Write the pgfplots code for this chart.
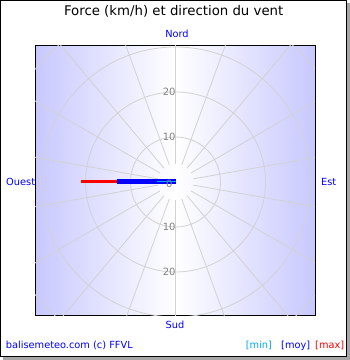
\documentclass[border=0pt]{standalone}
\usepackage{fontspec}
\setmainfont{DejaVu Sans}
\usepackage{pgfplots}
\pgfplotsset{compat=1.18}
\definecolor{bgblue}{RGB}{200,200,255}
\definecolor{gridgray}{RGB}{210,210,210}
\definecolor{tickgray}{RGB}{130,130,130}
\definecolor{pureblue}{RGB}{0,0,255}
\begin{document}
\begin{tikzpicture}[x=1pt,y=1pt]
\useasboundingbox (0,0) rectangle (350,-360);
\fill[gray!70] (3,-3) rectangle (350,-360);
\fill[white] (0,0) rectangle (347,-357);
\draw[black, line width=1pt] (0.5,-0.5) rectangle (346.5,-356.5);
\begin{axis}[
  at={(35pt,-315pt)}, anchor=south west,
  scale only axis, width=280pt, height=270pt,
  xmin=-31.22, xmax=30.99, ymin=-29.56, ymax=30.44,
  xtick=\empty, ytick=\empty,
  axis line style={black, line width=1pt},
  axis background/.style={left color=bgblue, right color=bgblue, middle color=white},
]
\pgfplotsinvokeforeach{10,20,30,40}{
  \draw[gridgray, line width=0.8pt] (axis cs:0,0) circle[radius=#1];
}
\pgfplotsinvokeforeach{10,30,...,350}{
  \draw[gridgray, line width=0.8pt] (axis cs:{4*cos(#1)},{4*sin(#1)}) -- (axis cs:{45*cos(#1)},{45*sin(#1)});
}
\addplot[red, line width=3pt, no markers] coordinates {(0,0) (-21.0,0)};
\addplot[pureblue, line width=5pt, no markers] coordinates {(0,0) (-13.1,0)};
\addplot[cyan, line width=1pt, no markers] coordinates {(0,0) (-4.2,0)};
\begin{scope}[every node/.style={inner sep=0pt, text=tickgray, font=\fontsize{10}{12}\selectfont}]
\node[anchor=east] at (axis cs:0.05,20) {20};
\node[anchor=east] at (axis cs:0.05,10) {10};
\node[anchor=east] at (axis cs:0.05,-10) {10};
\node[anchor=east] at (axis cs:0.05,-20) {20};
\node[anchor=center] at (axis cs:-1.4,-0.5) {0};
\end{scope}
\end{axis}
\begin{scope}[every node/.style={inner sep=0pt, font=\fontsize{9.8}{12}\selectfont}]
\node[anchor=base, font=\fontsize{13.3}{15}\selectfont] at (173.7,-15.7) {Force (km/h) et direction du vent};
\node[anchor=base, text=pureblue] at (177,-37.3) {Nord};
\node[anchor=base, text=pureblue] at (175,-328.3) {Sud};
\node[anchor=base west, text=pureblue] at (6,-185.7) {Ouest};
\node[anchor=base west, text=pureblue] at (321,-185.7) {Est};
\node[anchor=base west, text=pureblue] at (5.7,-348.3) {balisemeteo.com (c) FFVL};
\node[anchor=base west, text=cyan] at (245.7,-348.3) {[min]};
\node[anchor=base west, text=pureblue] at (281,-348.3) {[moy]};
\node[anchor=base west, text=red] at (315,-348.3) {[max]};
\end{scope}
\end{tikzpicture}
\end{document}
